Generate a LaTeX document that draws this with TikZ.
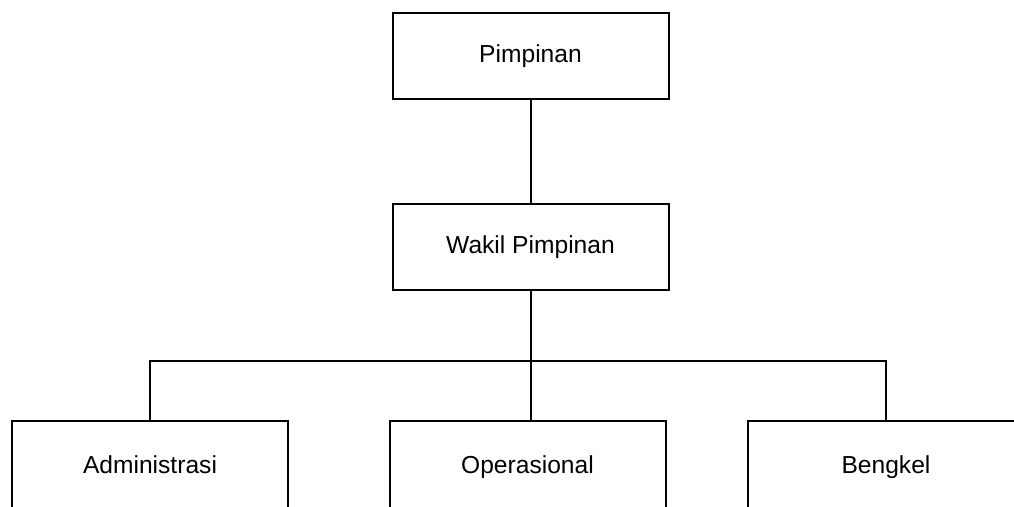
\documentclass[tikz,border=0pt]{standalone}
\usepackage{fontspec}
\setmainfont{Liberation Sans}
\usetikzlibrary{positioning}

\tikzset{
    unitbox/.style={draw, line width=1pt, minimum width=138pt, minimum height=43pt,
        inner sep=0pt, text height=9pt, text depth=2.5pt,
        font=\fontsize{12.3}{14}\selectfont},
    link/.style={line width=1pt}
}

\begin{document}
\begin{tikzpicture}[x=0.5pt, y=-0.5pt]
                \clip (0,0) rectangle (1014,507);

                \node[unitbox] (pimp) at (530.5,56) {Pimpinan};
                \node[unitbox] (wakil) at (530.5,247.5) {Wakil Pimpinan};

                \node[unitbox, minimum height=46pt] (admin) at (150,467) {Administrasi};
                \node[unitbox, minimum height=46pt] (oper) at (527.5,467) {Operasional};
                \node[unitbox, minimum height=46pt] (beng) at (886,467) {Bengkel};

                \coordinate (bus) at (530.5,361);

                \draw[link] (pimp) -- (wakil);
                \draw[link] (wakil) -- (bus);
                \draw[link] (admin.north) |- (bus) -| (beng.north);
                \draw[link] (bus) -- (bus |- oper.north);

            \end{tikzpicture}
\end{document}
